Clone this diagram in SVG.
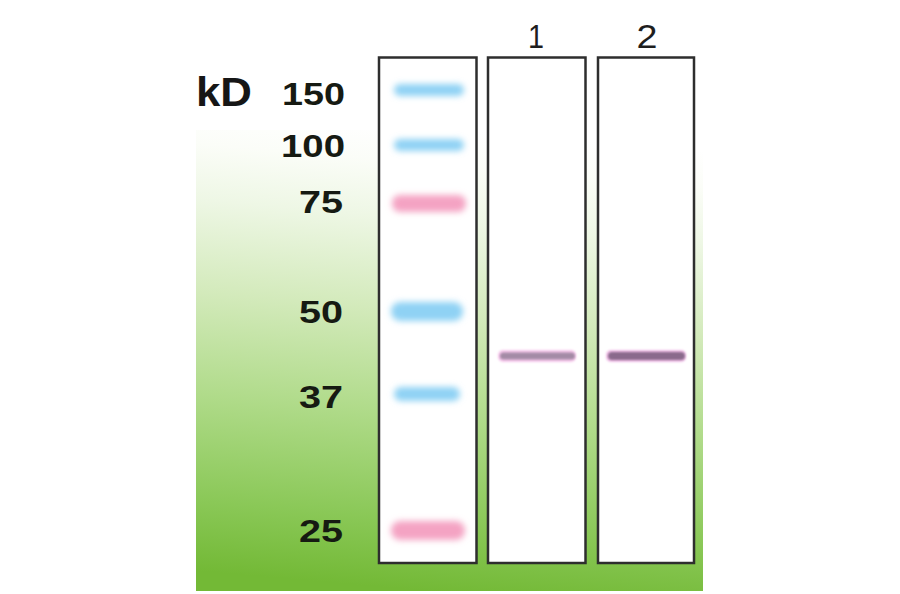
<svg xmlns="http://www.w3.org/2000/svg" width="900" height="594" viewBox="0 0 900 594">
  <style>
    .mw { font-family: "Liberation Sans", Arial, sans-serif; font-weight: bold; font-size: 31px; fill: #161a12; text-anchor: end; }
    .kd { font-family: "Liberation Sans", Arial, sans-serif; font-weight: bold; font-size: 40px; fill: #161616; }
    .ln { font-family: "Liberation Sans", Arial, sans-serif; font-size: 34px; fill: #1e1e1e; text-anchor: middle; }
    .lane { fill: #ffffff; stroke: #2e2e2e; stroke-width: 2.5; }
    .blue { fill: #8fd2f4; }
    .pink { fill: #f4a3c3; }
  </style>
  <defs>
    <linearGradient id="bg" gradientUnits="userSpaceOnUse" x1="470" y1="130" x2="430" y2="591">
      <stop offset="0" stop-color="#ffffff"/>
      <stop offset="0.08" stop-color="#fbfdf8"/>
      <stop offset="0.2" stop-color="#eef7e5"/>
      <stop offset="0.4" stop-color="#d3eabb"/>
      <stop offset="0.62" stop-color="#b0db8a"/>
      <stop offset="0.85" stop-color="#8ac857"/>
      <stop offset="1" stop-color="#73b936"/>
    </linearGradient>
    <filter id="blur" x="-30%" y="-100%" width="160%" height="300%">
      <feGaussianBlur stdDeviation="3"/>
    </filter>
    <filter id="blur2" x="-20%" y="-100%" width="140%" height="300%">
      <feGaussianBlur stdDeviation="1.2"/>
    </filter>
  </defs>
  <rect width="900" height="594" fill="#ffffff"/>
  <rect x="196" y="130" width="507" height="461" fill="url(#bg)"/>

  <g id="labels">
    <text class="kd" x="196" y="106" textLength="56" lengthAdjust="spacingAndGlyphs">kD</text>
    <text class="mw" x="345" y="105" textLength="63" lengthAdjust="spacingAndGlyphs">150</text>
    <text class="mw" x="345" y="157" textLength="64" lengthAdjust="spacingAndGlyphs">100</text>
    <text class="mw" x="343" y="213" textLength="44" lengthAdjust="spacingAndGlyphs">75</text>
    <text class="mw" x="343" y="323" textLength="44" lengthAdjust="spacingAndGlyphs">50</text>
    <text class="mw" x="343" y="408" textLength="44" lengthAdjust="spacingAndGlyphs">37</text>
    <text class="mw" x="343" y="542" textLength="44" lengthAdjust="spacingAndGlyphs">25</text>
  </g>

  <g id="lane-marker">
    <rect class="lane" x="379" y="57.5" width="97.5" height="505.5"/>
    <rect class="blue" x="394" y="84" width="70" height="12" rx="6" filter="url(#blur)"/>
    <rect class="blue" x="394" y="139" width="70" height="12" rx="6" filter="url(#blur)"/>
    <rect class="pink" x="392" y="195" width="74" height="17" rx="8" filter="url(#blur)"/>
    <rect class="blue" x="391" y="302" width="72" height="19" rx="9" filter="url(#blur)"/>
    <rect class="blue" x="394" y="387" width="66" height="14" rx="7" filter="url(#blur)"/>
    <rect class="pink" x="391" y="521" width="74" height="19" rx="9" filter="url(#blur)"/>
  </g>

  <g id="lane-1">
    <rect class="lane" x="488" y="57.5" width="97.5" height="505.5"/>
    <text class="ln" x="536" y="48" textLength="16" lengthAdjust="spacingAndGlyphs">1</text>
    <rect x="498" y="350" width="78" height="12" rx="5" fill="#f7c8ec" filter="url(#blur2)"/>
    <rect x="500" y="352.5" width="75" height="7" rx="3.5" fill="#a48ba6" filter="url(#blur2)"/>
  </g>

  <g id="lane-2">
    <rect class="lane" x="598" y="57.5" width="96" height="505.5"/>
    <text class="ln" x="647" y="48" textLength="21" lengthAdjust="spacingAndGlyphs">2</text>
    <rect x="606" y="350" width="80" height="12" rx="5" fill="#f2bfe8" filter="url(#blur2)"/>
    <rect x="608" y="352" width="77" height="8" rx="4" fill="#8a6a8c" filter="url(#blur2)"/>
  </g>

  <g id="connectors"></g>
</svg>
